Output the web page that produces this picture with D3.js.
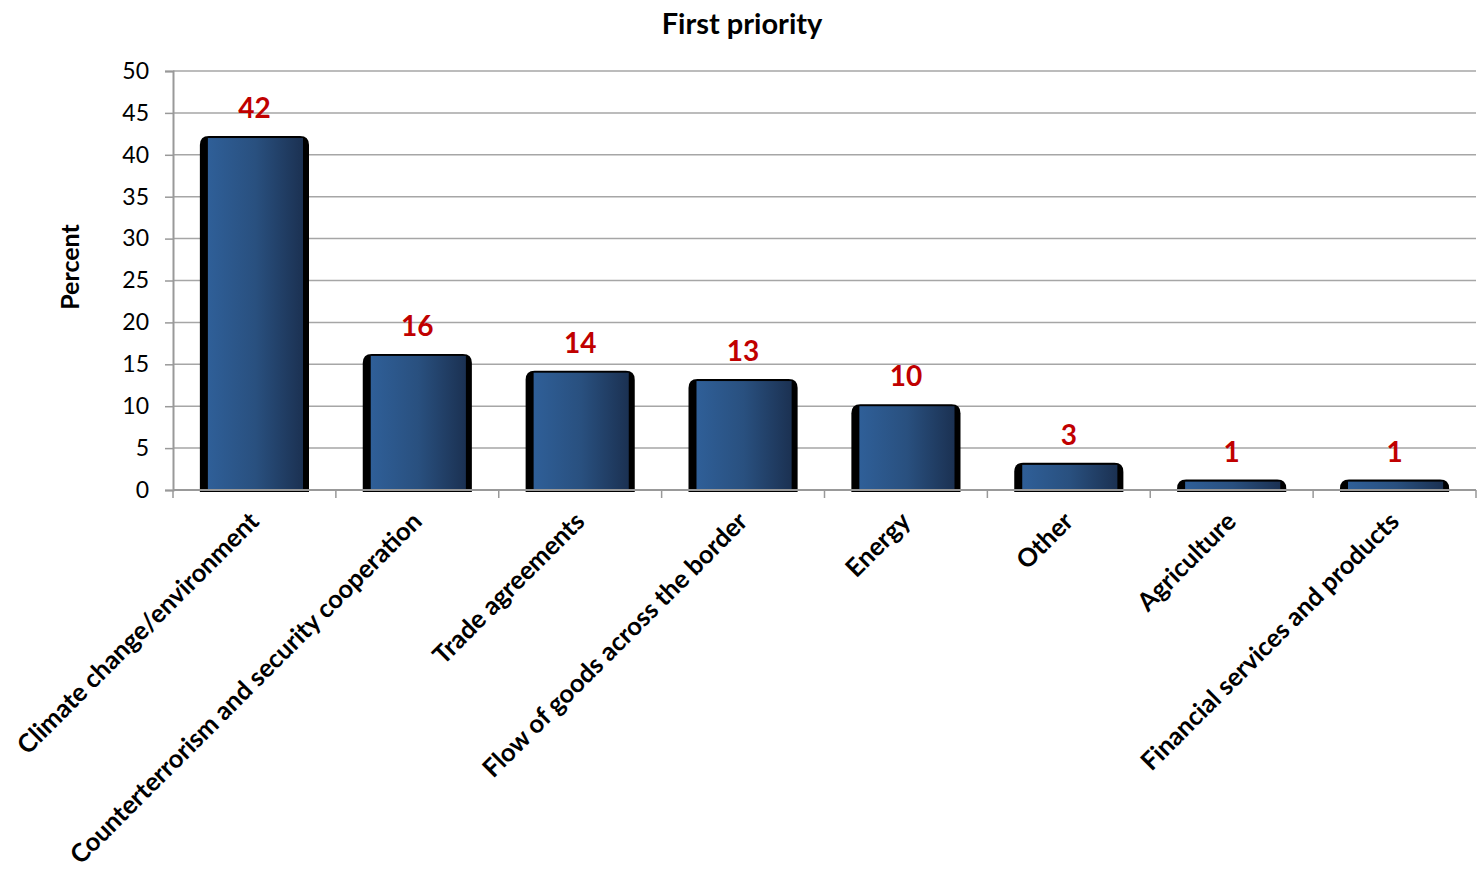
<!DOCTYPE html>
<html><head><meta charset="utf-8">
<script src="https://cdn.jsdelivr.net/npm/d3@7"></script>
<style>body{margin:0;background:#fff;} svg{display:block;}</style>
</head><body>
<svg id="c" width="1483" height="876"></svg>
<script>
const categories = ["Climate change/environment","Counterterrorism and security cooperation","Trade agreements","Flow of goods across the border","Energy","Other","Agriculture","Financial services and products"];
const values = [42,16,14,13,10,3,1,1];
const yTicks = [0,5,10,15,20,25,30,35,40,45,50];
const title = "First priority";
const yTitle = "Percent";

const svg = d3.select("#c");
const font = "Lato, 'Open Sans', sans-serif";
const L=173, R=1476, T=71, B=490;
const x = d3.scaleBand().domain(categories).range([L,R]).paddingInner(0.33).paddingOuter(0.165);
const y = d3.scaleLinear().domain([0,50]).range([B,T]);

const defs = svg.append("defs");
const g = defs.append("linearGradient").attr("id","bg").attr("x1","0").attr("x2","1").attr("y1","0").attr("y2","0");
g.append("stop").attr("offset","0").attr("stop-color","#2f5f98");
g.append("stop").attr("offset","0.5").attr("stop-color","#29507f");
g.append("stop").attr("offset","1").attr("stop-color","#1b3152");

// gridlines
svg.append("g").selectAll("line").data(yTicks).join("line")
  .attr("x1",L).attr("x2",R).attr("y1",d=>y(d)).attr("y2",d=>y(d))
  .attr("stroke","#a6a6a6").attr("stroke-width",1.5);

// y axis
const ya = svg.append("g").attr("transform",`translate(${L},0)`).call(d3.axisLeft(y).tickValues(yTicks).tickSize(8).tickPadding(16));
ya.select(".domain").attr("stroke","#999").attr("stroke-width",2);
ya.selectAll(".tick line").attr("stroke","#999").attr("stroke-width",1.5);
ya.selectAll("text").attr("font-family",font).attr("font-size",23).attr("fill","#000");

// bars
const bars = svg.append("g").selectAll("g").data(values.map((v,i)=>({v,c:categories[i]}))).join("g");
bars.append("path").attr("fill","#000").attr("d",d=>{
  const x0=x(d.c), x1=x0+x.bandwidth(), yt=y(d.v)-2, yb=B+2;
  const r=Math.min(9,(yb-yt)/1.2);
  return `M${x0},${yb}L${x0},${yt+r}Q${x0},${yt} ${x0+r},${yt}L${x1-r},${yt}Q${x1},${yt} ${x1},${yt+r}L${x1},${yb}Z`;
});
bars.append("rect").attr("x",d=>x(d.c)+8).attr("width",x.bandwidth()-14)
  .attr("y",d=>y(d.v)).attr("height",d=>B-y(d.v)).attr("fill","url(#bg)");

// x axis
const xa = svg.append("g").attr("transform",`translate(0,${B})`);
xa.append("line").attr("x1",L).attr("x2",R).attr("stroke","#999").attr("stroke-width",2);
const step = (R-L)/categories.length;
xa.selectAll("line.t").data(d3.range(categories.length+1)).join("line").attr("class","t")
  .attr("x1",i=>L+i*step).attr("x2",i=>L+i*step).attr("y1",0).attr("y2",8)
  .attr("stroke","#999").attr("stroke-width",1.5);

// value labels
svg.append("g").selectAll("text").data(values.map((v,i)=>({v,c:categories[i]}))).join("text")
  .attr("x",d=>x(d.c)+x.bandwidth()/2).attr("y",d=>y(d.v)-20)
  .attr("text-anchor","middle").attr("font-family",font).attr("font-weight","bold")
  .attr("font-size",28).attr("fill","#c00000").text(d=>d.v);

// category labels
svg.append("g").selectAll("text").data(categories).join("text")
  .attr("transform",d=>`translate(${x(d)+x.bandwidth()/2+6},${B+33}) rotate(-45)`)
  .attr("text-anchor","end").attr("font-family",font).attr("font-weight","bold")
  .attr("font-size",25.5).attr("fill","#000").text(d=>d);

// title
svg.append("text").attr("x",742).attr("y",34).attr("text-anchor","middle")
  .attr("font-family",font).attr("font-weight","bold").attr("font-size",29).text(title);
svg.append("text").attr("transform","translate(79,267) rotate(-90)").attr("text-anchor","middle")
  .attr("font-family",font).attr("font-weight","bold").attr("font-size",25).text(yTitle);
</script>
</body></html>
